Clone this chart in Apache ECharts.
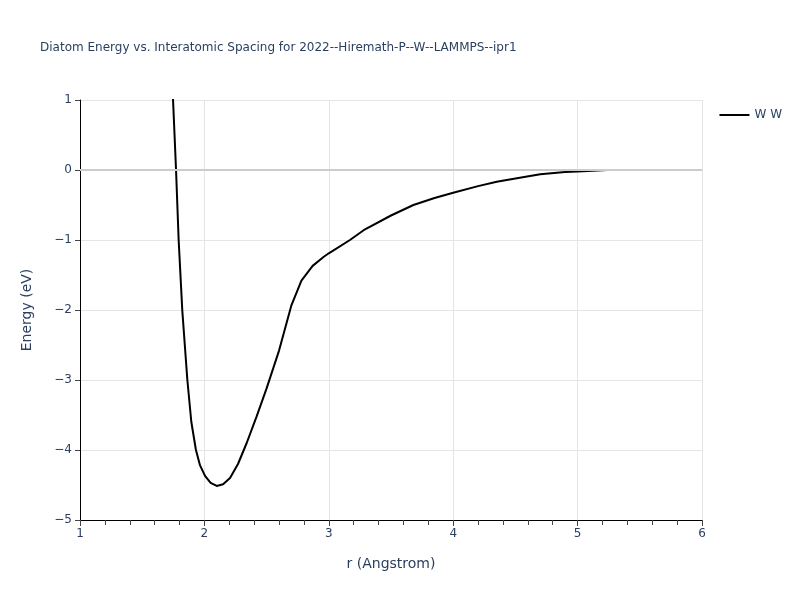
<!DOCTYPE html>
<html><head><meta charset="utf-8">
<script src="https://cdn.jsdelivr.net/npm/echarts@6/dist/echarts.min.js"></script>
<style>html,body{margin:0;padding:0;background:#fff}#c{width:800px;height:600px}</style>
</head><body><div id="c"></div>
<script>
const titleText = 'Diatom Energy vs. Interatomic Spacing for 2022--Hiremath-P--W--LAMMPS--ipr1';
const seriesName = 'W W';
const rValues = [1.72,1.748,1.772,1.793,1.822,1.863,1.895,1.932,1.965,2.005,2.05,2.099,2.15,2.206,2.27,2.34,2.42,2.50,2.60,2.70,2.78,2.87,2.96,3.0,3.17,3.28,3.50,3.68,3.85,4.0,4.2,4.35,4.5,4.7,4.9,5.0,5.24,5.5,6.0];
const energyValues = [2.2,1.0,0.0,-1.0,-2.0,-3.0,-3.6,-4.0,-4.22,-4.37,-4.47,-4.514,-4.49,-4.40,-4.20,-3.90,-3.52,-3.12,-2.58,-1.93,-1.58,-1.37,-1.24,-1.19,-1.0,-0.86,-0.65,-0.50,-0.40,-0.324,-0.23,-0.167,-0.12,-0.062,-0.03,-0.02,0,0,0];
const xTicks = [1,2,3,4,5,6];
const yTicks = [-5,-4,-3,-2,-1,0,1];

const txt = '#2a3f5f';
const ff = '"DejaVu Sans", Verdana, sans-serif';
const fmt = v => (v < 0 ? '\u2212' + Math.abs(v) : String(v));
const chart = echarts.init(document.getElementById('c'), null, {renderer:'canvas'});
chart.setOption({
  animation:false,
  backgroundColor:'#fff',
  textStyle:{fontFamily:ff},
  title:{text:titleText,left:35,top:37,textStyle:{fontSize:12,fontWeight:'normal',color:txt,fontFamily:ff}},
  legend:{right:13,top:104,orient:'vertical',itemWidth:30,itemHeight:2,itemGap:8,icon:'rect',
    textStyle:{fontSize:12,color:txt,fontFamily:ff},data:[{name:seriesName,icon:'path://M0,0 L30,0 L30,2 L0,2 Z'}]},
  grid:{left:80,right:98,top:100,bottom:80,containLabel:false},
  xAxis:{type:'value',min:xTicks[0],max:xTicks[xTicks.length-1],interval:1,
    name:'r (Angstrom)',nameLocation:'middle',nameGap:37,nameTextStyle:{fontSize:14,color:txt,fontFamily:ff},
    axisLine:{show:true,onZero:false,lineStyle:{color:'#000',width:1}},
    axisTick:{show:true,length:6,lineStyle:{color:'#444'}},
    minorTick:{show:true,splitNumber:5,length:5,lineStyle:{color:'#444'}},
    axisLabel:{fontSize:12,color:txt,margin:8,formatter:fmt,fontFamily:ff},
    splitLine:{show:true,lineStyle:{color:'#e5e5e5',width:1}}},
  yAxis:{type:'value',min:yTicks[0],max:yTicks[yTicks.length-1],interval:1,
    name:'Energy (eV)',nameLocation:'middle',nameGap:46,nameTextStyle:{fontSize:14,color:txt,fontFamily:ff},
    axisLine:{show:true,onZero:false,lineStyle:{color:'#000',width:1}},
    axisTick:{show:true,length:5,lineStyle:{color:'#444'}},
    axisLabel:{fontSize:12,color:txt,margin:8,formatter:fmt,fontFamily:ff},
    splitLine:{show:true,lineStyle:{color:'#e5e5e5',width:1}}},
  series:[
    {type:'line',data:[],silent:true,z:1,markLine:{silent:true,symbol:'none',label:{show:false},
      lineStyle:{color:'#cccccc',width:2,type:'solid'},data:[{yAxis:0}]}},
    {name:seriesName,type:'line',data:rValues.map((r,i)=>[r,energyValues[i]]),showSymbol:false,symbol:'none',
      smooth:false,clip:true,z:3,lineStyle:{color:'#000',width:2},itemStyle:{color:'#000'}}
  ]
});
</script></body></html>
